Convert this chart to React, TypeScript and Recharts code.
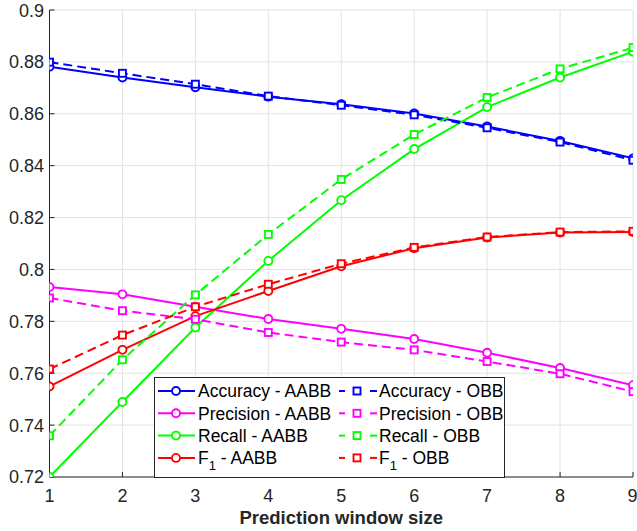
import React from 'react';
import { LineChart, Line, XAxis, YAxis, CartesianGrid, Legend } from 'recharts';

const windowSizes = [1, 2, 3, 4, 5, 6, 7, 8, 9];
const accuracyAABB = [0.8781, 0.874, 0.8702, 0.8666, 0.8637, 0.8601, 0.8551, 0.8495, 0.8428];
const accuracyOBB = [0.8799, 0.8756, 0.8714, 0.8668, 0.8633, 0.8596, 0.8546, 0.8491, 0.8421];
const precisionAABB = [0.7932, 0.7904, 0.7856, 0.7809, 0.7771, 0.7732, 0.7679, 0.762, 0.7554];
const precisionOBB = [0.789, 0.7841, 0.7808, 0.7757, 0.772, 0.769, 0.7645, 0.7598, 0.7529];
const recallAABB = [0.72, 0.7489, 0.7776, 0.8033, 0.8267, 0.8464, 0.8626, 0.874, 0.8839];
const recallOBB = [0.7359, 0.7652, 0.7902, 0.8135, 0.8347, 0.852, 0.8663, 0.8773, 0.8855];
const f1AABB = [0.7549, 0.769, 0.782, 0.7917, 0.8012, 0.8082, 0.8123, 0.8142, 0.8144];
const f1OBB = [0.7616, 0.7747, 0.7856, 0.7943, 0.8022, 0.8085, 0.8125, 0.8144, 0.8147];
const yTicks = [0.72, 0.74, 0.76, 0.78, 0.8, 0.82, 0.84, 0.86, 0.88, 0.9];

const data = windowSizes.map((x, i) => ({
  x,
  accA: accuracyAABB[i],
  accO: accuracyOBB[i],
  precA: precisionAABB[i],
  precO: precisionOBB[i],
  recA: recallAABB[i],
  recO: recallOBB[i],
  f1A: f1AABB[i],
  f1O: f1OBB[i],
}));

const BLUE = '#0000ff';
const MAGENTA = '#ff00ff';
const GREEN = '#00ff00';
const RED = '#ff0000';
const AXIS = '#262626';
const FONT = '"Liberation Sans", Arial, Helvetica, sans-serif';

const circleDot = (color: string, id: string) => (p: any) => (
  <circle key={`${id}-${p.index}`} cx={p.cx} cy={p.cy} r={4} fill="#fff" stroke={color} strokeWidth={1.9} />
);
const squareDot = (color: string, id: string) => (p: any) => (
  <rect key={`${id}-${p.index}`} x={p.cx - 3.5} y={p.cy - 3.5} width={7} height={7} fill="#fff" stroke={color} strokeWidth={1.9} />
);

const legendItems = [
  { name: 'Accuracy', color: BLUE },
  { name: 'Precision', color: MAGENTA },
  { name: 'Recall', color: GREEN },
  { name: 'F1', color: RED },
];

const LegendLabel = ({ x, y, name, suffix }: { x: number; y: number; name: string; suffix: string }) => {
  if (name === 'F1') {
    return (
      <text x={x} y={y} fontSize={17.5} fontFamily={FONT} fill="#000">
        F
        <tspan fontSize={13} dy={6}>1</tspan>
        <tspan dy={-6}>{` - ${suffix}`}</tspan>
      </text>
    );
  }
  return (
    <text x={x} y={y} fontSize={17.5} fontFamily={FONT} fill="#000">
      {`${name} - ${suffix}`}
    </text>
  );
};

const renderLegend = () => (
  <svg width={352} height={101} style={{ display: 'block' }}>
    <rect x={0.5} y={0.5} width={350} height={100} fill="#fff" stroke={AXIS} strokeWidth={1} />
    {legendItems.map((it, i) => {
      const cy = 14 + i * 22.3;
      return (
        <g key={it.name}>
          <line x1={4} x2={41} y1={cy} y2={cy} stroke={it.color} strokeWidth={2} />
          <circle cx={22} cy={cy} r={4} fill="#fff" stroke={it.color} strokeWidth={1.9} />
          <LegendLabel x={44} y={cy + 6.3} name={it.name} suffix="AABB" />
          <line x1={185} x2={191} y1={cy} y2={cy} stroke={it.color} strokeWidth={2} />
          <line x1={216} x2={223} y1={cy} y2={cy} stroke={it.color} strokeWidth={2} />
          <rect x={199.5} y={cy - 3.5} width={7} height={7} fill="#fff" stroke={it.color} strokeWidth={1.9} />
          <LegendLabel x={225} y={cy + 6.3} name={it.name} suffix="OBB" />
        </g>
      );
    })}
  </svg>
);

const fmtY = (v: number) => String(parseFloat(v.toFixed(2)));

const tickStyle = { fontSize: 18, fontFamily: FONT, fill: AXIS };

export default function App() {
  return (
    <div style={{ position: 'absolute', left: 0, top: 0, width: 637, height: 531, background: '#fff' }}>
      <LineChart width={637} height={531} data={data} margin={{ top: 10, right: 4, bottom: 0, left: 0 }}>
        <CartesianGrid stroke="#e3e3e3" strokeWidth={1} />
        <XAxis
          dataKey="x"
          type="number"
          domain={[1, 9]}
          ticks={windowSizes}
          allowDataOverflow
          height={54}
          stroke={AXIS}
          tickSize={-5}
          tickMargin={17}
          tick={tickStyle}
          label={{ value: 'Prediction window size', position: 'insideBottom', offset: 7, style: { fontSize: 18.5, fontWeight: 'bold', fontFamily: FONT, fill: AXIS } }}
        />
        <XAxis
          xAxisId="top"
          dataKey="x"
          orientation="top"
          type="number"
          domain={[1, 9]}
          ticks={windowSizes}
          allowDataOverflow
          height={0}
          stroke={AXIS}
          tickSize={-5}
          tickFormatter={() => ''}
        />
        <YAxis
          type="number"
          domain={[0.72, 0.9]}
          ticks={yTicks}
          allowDataOverflow
          width={49.5}
          stroke={AXIS}
          tickSize={-5}
          tickMargin={10.5}
          tick={tickStyle}
          tickFormatter={fmtY}
        />
        <YAxis
          yAxisId="right"
          orientation="right"
          type="number"
          domain={[0.72, 0.9]}
          ticks={yTicks}
          allowDataOverflow
          width={0}
          stroke={AXIS}
          tickSize={-5}
          tickFormatter={() => ''}
        />
        <Legend layout="horizontal" verticalAlign="middle" align="center" content={renderLegend}
          wrapperStyle={{ left: 154, top: 377, width: 352, height: 101 }} />
        <Line dataKey="accA" stroke={BLUE} strokeWidth={2} dot={circleDot(BLUE, 'accA')} isAnimationActive={false} />
        <Line dataKey="precA" stroke={MAGENTA} strokeWidth={2} dot={circleDot(MAGENTA, 'precA')} isAnimationActive={false} />
        <Line dataKey="recA" stroke={GREEN} strokeWidth={2} dot={circleDot(GREEN, 'recA')} isAnimationActive={false} />
        <Line dataKey="f1A" stroke={RED} strokeWidth={2} dot={circleDot(RED, 'f1A')} isAnimationActive={false} />
        <Line dataKey="accO" stroke={BLUE} strokeWidth={2} strokeDasharray="9 5" dot={squareDot(BLUE, 'accO')} isAnimationActive={false} />
        <Line dataKey="precO" stroke={MAGENTA} strokeWidth={2} strokeDasharray="9 5" dot={squareDot(MAGENTA, 'precO')} isAnimationActive={false} />
        <Line dataKey="recO" stroke={GREEN} strokeWidth={2} strokeDasharray="9 5" dot={squareDot(GREEN, 'recO')} isAnimationActive={false} />
        <Line dataKey="f1O" stroke={RED} strokeWidth={2} strokeDasharray="9 5" dot={squareDot(RED, 'f1O')} isAnimationActive={false} />
      </LineChart>
    </div>
  );
}
